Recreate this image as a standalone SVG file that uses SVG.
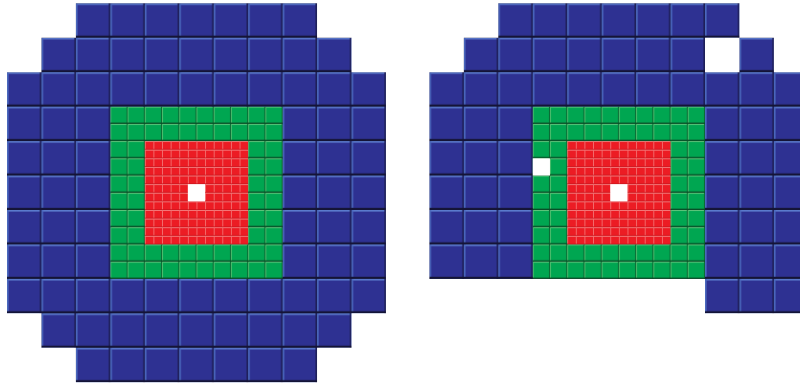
<svg xmlns="http://www.w3.org/2000/svg" width="800" height="385" viewBox="0 0 800 385">
  <defs>
    <pattern id="blueTile" patternUnits="userSpaceOnUse" x="0" y="0" width="34.45" height="34.45">
      <rect width="34.45" height="34.45" fill="#2e3192"/>
      <rect width="34.45" height="1.6" fill="#5a7acc"/>
      <rect width="1.6" height="34.45" fill="#4a68bd"/>
      <rect x="32.85" width="1.6" height="34.45" fill="#1e1f58"/>
      <rect y="32.3" width="34.45" height="2.15" fill="#141436"/>
    </pattern>
    <pattern id="greenTile" patternUnits="userSpaceOnUse" x="0" y="0" width="17.225" height="17.225">
      <rect width="17.225" height="17.225" fill="#00a651"/>
      <rect width="17.225" height="1" fill="#5cc47a"/>
      <rect width="1" height="17.225" fill="#4cbb6c"/>
      <rect x="16.2" width="1" height="17.225" fill="#0b6a34"/>
      <rect y="15.9" width="17.225" height="1.325" fill="#084d26"/>
    </pattern>
    <pattern id="redTile" patternUnits="userSpaceOnUse" x="0" y="0" width="8.6125" height="8.6125">
      <rect width="8.6125" height="8.6125" fill="#ec1c24"/>
      <rect width="8.6125" height="0.9" fill="#f47e7e"/>
      <rect width="0.9" height="8.6125" fill="#f27070"/>
      <rect y="7.9" width="8.6125" height="0.7" fill="#c8141c"/>
    </pattern>
  </defs>

  <g id="left-figure" transform="translate(7,3.3)">
    <path fill="url(#blueTile)" d="M68.9,0 H310.05 V34.45 H344.5 V68.9 H378.95 V310.05 H344.5 V344.5 H310.05 V378.95 H68.9 V344.5 H34.45 V310.05 H0 V68.9 H34.45 V34.45 H68.9 Z"/>
    <rect x="103.35" y="103.35" width="172.25" height="172.25" fill="url(#greenTile)"/>
    <rect x="137.8" y="137.8" width="103.35" height="103.35" fill="url(#redTile)"/>
    <rect x="180.86" y="180.86" width="17.225" height="17.225" fill="#ffffff"/>
  </g>

  <g id="right-figure" transform="translate(429.4,3.3)">
    <path fill="url(#blueTile)" fill-rule="evenodd" d="M68.9,0 H310.05 V34.45 H344.5 V68.9 H378.95 V310.05 H275.6 V275.6 H0 V68.9 H34.45 V34.45 H68.9 Z M275.6,34.45 H310.05 V68.9 H275.6 Z"/>
    <rect x="103.35" y="103.35" width="172.25" height="172.25" fill="url(#greenTile)"/>
    <rect x="137.8" y="137.8" width="103.35" height="103.35" fill="url(#redTile)"/>
    <rect x="180.86" y="180.86" width="17.225" height="17.225" fill="#ffffff"/>
    <rect x="103.35" y="155.025" width="17.225" height="17.225" fill="#ffffff"/>
  </g>
</svg>
